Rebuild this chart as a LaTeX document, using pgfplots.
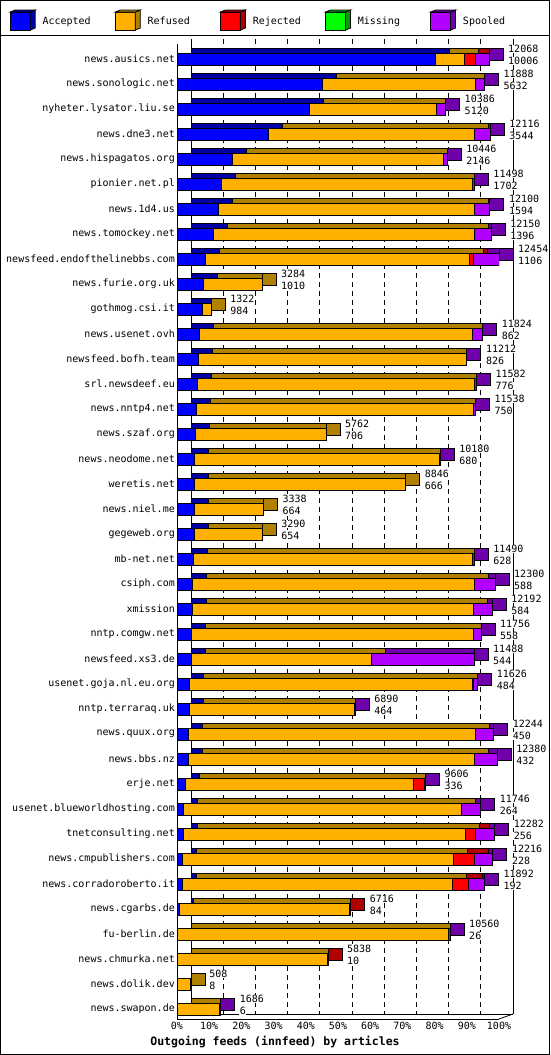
\documentclass[border=0pt]{standalone}
\usepackage{fontspec}
\setmainfont{DejaVu Sans Mono}
\setmonofont{DejaVu Sans Mono}
\usepackage{pgfplots}
\usepackage{pgfplotstable}
\pgfplotsset{compat=1.18}

\definecolor{cA}{RGB}{0,0,255}
\definecolor{cAd}{RGB}{0,0,165}
\definecolor{cR}{RGB}{255,176,0}
\definecolor{cRd}{RGB}{176,128,0}
\definecolor{cJ}{RGB}{255,0,0}
\definecolor{cJd}{RGB}{176,0,0}
\definecolor{cM}{RGB}{0,255,0}
\definecolor{cMd}{RGB}{0,160,0}
\definecolor{cS}{RGB}{176,0,255}
\definecolor{cSd}{RGB}{112,0,170}

\pgfplotstableread{
c acc ref rej mis spo tot
0 10006 1098 449 0 515 12068
1 5632 5902 0 0 354 11888
2 5120 4930 0 0 336 10386
3 3544 7953 0 0 619 12116
4 2146 8161 0 0 139 10446
5 1702 9708 0 0 88 11498
6 1594 9927 0 0 579 12100
7 1396 10107 0 0 647 12150
8 1106 10188 180 0 980 12454
9 1010 2274 0 0 0 3284
10 984 338 0 0 0 1322
11 862 10559 0 0 403 11824
12 826 10366 0 0 20 11212
13 776 10730 0 0 76 11582
14 750 10698 0 0 90 11538
15 706 5056 0 0 0 5762
16 680 9485 0 0 15 10180
17 666 8180 0 0 0 8846
18 664 2674 0 0 0 3338
19 654 2636 0 0 0 3290
20 628 10812 0 0 50 11490
21 588 10919 0 0 793 12300
22 584 10892 0 0 716 12192
23 558 10892 0 0 306 11756
24 544 6974 0 0 3970 11488
25 484 10933 30 0 179 11626
26 464 6394 0 0 32 6890
27 450 11088 0 0 706 12244
28 432 11054 0 0 894 12380
29 336 8792 451 0 27 9606
30 264 10739 0 0 743 11746
31 256 10907 374 0 745 12282
32 228 10481 799 0 708 12216
33 192 10469 593 0 638 11892
34 84 6579 53 0 0 6716
35 26 10484 0 0 50 10560
36 10 5790 38 0 0 5838
37 8 500 0 0 0 508
38 6 1636 0 0 44 1686
}\feeds

\newcommand{\cube}[2]{%
  \draw[fill=#1,line width=0.8pt] (0pt,-9pt) rectangle (20pt,9pt);
  \draw[fill=#2,line width=0.8pt] (20pt,-9pt) -- (25pt,-7pt) -- (25pt,11pt) -- (20pt,9pt) -- cycle;
  \draw[fill=#2,line width=0.8pt] (0pt,9pt) -- (5pt,11pt) -- (25pt,11pt) -- (20pt,9pt) -- cycle;}

% depth of the 3D effect, in article units (14 px of 322 px = 12454 articles)
\newcommand{\depth}{541.5}

\pgfplotsset{
  common/.style={scale only axis, width=322pt, height=975pt, xmin=0, xmax=12454,
    ymin=-0.6, ymax=38.4, y dir=reverse, scaled x ticks=false,
    xtick={0,1245.4,2490.8,3736.2,4981.6,6227,7472.4,8717.8,9963.2,11208.6,12454}},
  barsty/.style={draw=black, line width=0.8pt, fill=#1},
}
\newcommand{\fs}{\fontsize{10}{12}\selectfont}

\begin{document}
\begin{tikzpicture}
\useasboundingbox (0,0) rectangle (550pt,-1055pt);

% back (depth) layer: grid, walls, top faces
\begin{axis}[common, at={(191pt,-1014pt)}, anchor=south west,
  xbar stacked, bar width=12pt,
  axis x line*=bottom, axis y line=none, axis line style={line width=0.8pt},
  xtick={1245.4,2490.8,3736.2,4981.6,6227,7472.4,8717.8,9963.2,11208.6},
  xticklabels={}, xtick style={draw=none}, ytick=\empty,
  xmajorgrids, major grid style={dash pattern=on 5pt off 4pt, black, line width=0.8pt},
  extra x ticks={0,12454}, extra x tick labels={},
  extra x tick style={major grid style={solid, black, line width=0.8pt}, xtick style={draw=none}}]
\addplot[barsty=cAd] table[x=acc,y=c]{\feeds};
\addplot[barsty=cRd] table[x=ref,y=c]{\feeds};
\addplot[barsty=cJd] table[x=rej,y=c]{\feeds};
\addplot[barsty=cMd] table[x=mis,y=c]{\feeds};
\addplot[barsty=cSd] table[x=spo,y=c]{\feeds};
\end{axis}

% side faces, in the colour of the last segment of each bar
\begin{axis}[common, at={(191pt,-1014pt)}, anchor=south west,
  xbar stacked, bar width=12pt, hide axis]
\addplot[draw=none, fill=none] table[x expr={\thisrow{tot}-\depth}, y=c]{\feeds};
\addplot[barsty=cSd] table[x expr={\thisrow{spo}>0 ? \depth : 0}, y=c]{\feeds};
\addplot[barsty=cJd] table[x expr={(\thisrow{spo}==0 && \thisrow{rej}>0) ? \depth : 0}, y=c]{\feeds};
\addplot[barsty=cRd] table[x expr={(\thisrow{spo}==0 && \thisrow{rej}==0) ? \depth : 0}, y=c]{\feeds};
\end{axis}

% front faces
\begin{axis}[common, at={(177pt,-1019pt)}, anchor=south west,
  xbar stacked, bar width=12pt,
  axis x line*=bottom, axis y line*=left, axis line style={line width=0.8pt},
  xticklabels={0\%,10\%,20\%,30\%,40\%,50\%,60\%,70\%,80\%,90\%,100\%},
  xtick style={draw=none},
  ytick={0,...,38}, ytick style={draw=none},
  yticklabels={news.ausics.net, news.sonologic.net, nyheter.lysator.liu.se, news.dne3.net,
    news.hispagatos.org, pionier.net.pl, news.1d4.us, news.tomockey.net,
    newsfeed.endofthelinebbs.com, news.furie.org.uk, gothmog.csi.it, news.usenet.ovh,
    newsfeed.bofh.team, srl.newsdeef.eu, news.nntp4.net, news.szaf.org, news.neodome.net,
    weretis.net, news.niel.me, gegeweb.org, mb-net.net, csiph.com, xmission, nntp.comgw.net,
    newsfeed.xs3.de, usenet.goja.nl.eu.org, nntp.terraraq.uk, news.quux.org, news.bbs.nz,
    erje.net, usenet.blueworldhosting.com, tnetconsulting.net, news.cmpublishers.com,
    news.corradoroberto.it, news.cgarbs.de, fu-berlin.de, news.chmurka.net, news.dolik.dev,
    news.swapon.de},
  tick label style={font=\fs},
  yticklabel style={inner sep=2pt},
  legend columns=5,
  legend style={at={(axis description cs:-0.5199,1.0246)}, anchor=west, draw=none, fill=none,
    inner sep=0pt, font=\fs, nodes={inner sep=0pt},
    /tikz/every odd column/.append style={column sep=7pt}}]
\addplot[barsty=cA, forget plot] table[x=acc,y=c]{\feeds};
\addplot[barsty=cR, forget plot] table[x=ref,y=c]{\feeds};
\addplot[barsty=cJ, forget plot] table[x=rej,y=c]{\feeds};
\addplot[barsty=cM, forget plot] table[x=mis,y=c]{\feeds};
\addplot[barsty=cS, forget plot] table[x=spo,y=c]{\feeds};
\addlegendimage{legend image code/.code={\cube{cA}{cAd}}}
\addlegendentry{\makebox[72.3pt][l]{Accepted}}
\addlegendimage{legend image code/.code={\cube{cR}{cRd}}}
\addlegendentry{\makebox[72.3pt][l]{Refused}}
\addlegendimage{legend image code/.code={\cube{cJ}{cJd}}}
\addlegendentry{\makebox[72.3pt][l]{Rejected}}
\addlegendimage{legend image code/.code={\cube{cM}{cMd}}}
\addlegendentry{\makebox[72.3pt][l]{Missing}}
\addlegendimage{legend image code/.code={\cube{cS}{cSd}}}
\addlegendentry{\makebox[72.3pt][l]{Spooled}}
\end{axis}

% value labels
\begin{axis}[common, at={(177pt,-1019pt)}, anchor=south west, hide axis, clip=false]
\addplot[draw=none, nodes near coords, point meta=explicit symbolic,
  nodes near coords style={anchor=west, xshift=18.5pt, yshift=10pt, fill=white, inner sep=0.5pt, font=\fs}]
  table[x=tot,y=c,meta=tot]{\feeds};
\addplot[draw=none, nodes near coords, point meta=explicit symbolic,
  nodes near coords style={anchor=west, xshift=18.5pt, yshift=-2pt, fill=white, inner sep=0.5pt, font=\fs}]
  table[x=tot,y=c,meta=acc]{\feeds};
\end{axis}

\draw[line width=0.8pt] (499pt,-1019pt) -- (513pt,-1014pt);
\node[font=\bfseries\fontsize{11.5}{13}\selectfont] at (275pt,-1042pt) {Outgoing feeds (innfeed) by articles};
\draw[line width=1pt] (0.5pt,-0.5pt) rectangle (549.5pt,-1054.5pt);
\draw[line width=1pt] (0pt,-35.5pt) -- (550pt,-35.5pt);
\end{tikzpicture}
\end{document}
